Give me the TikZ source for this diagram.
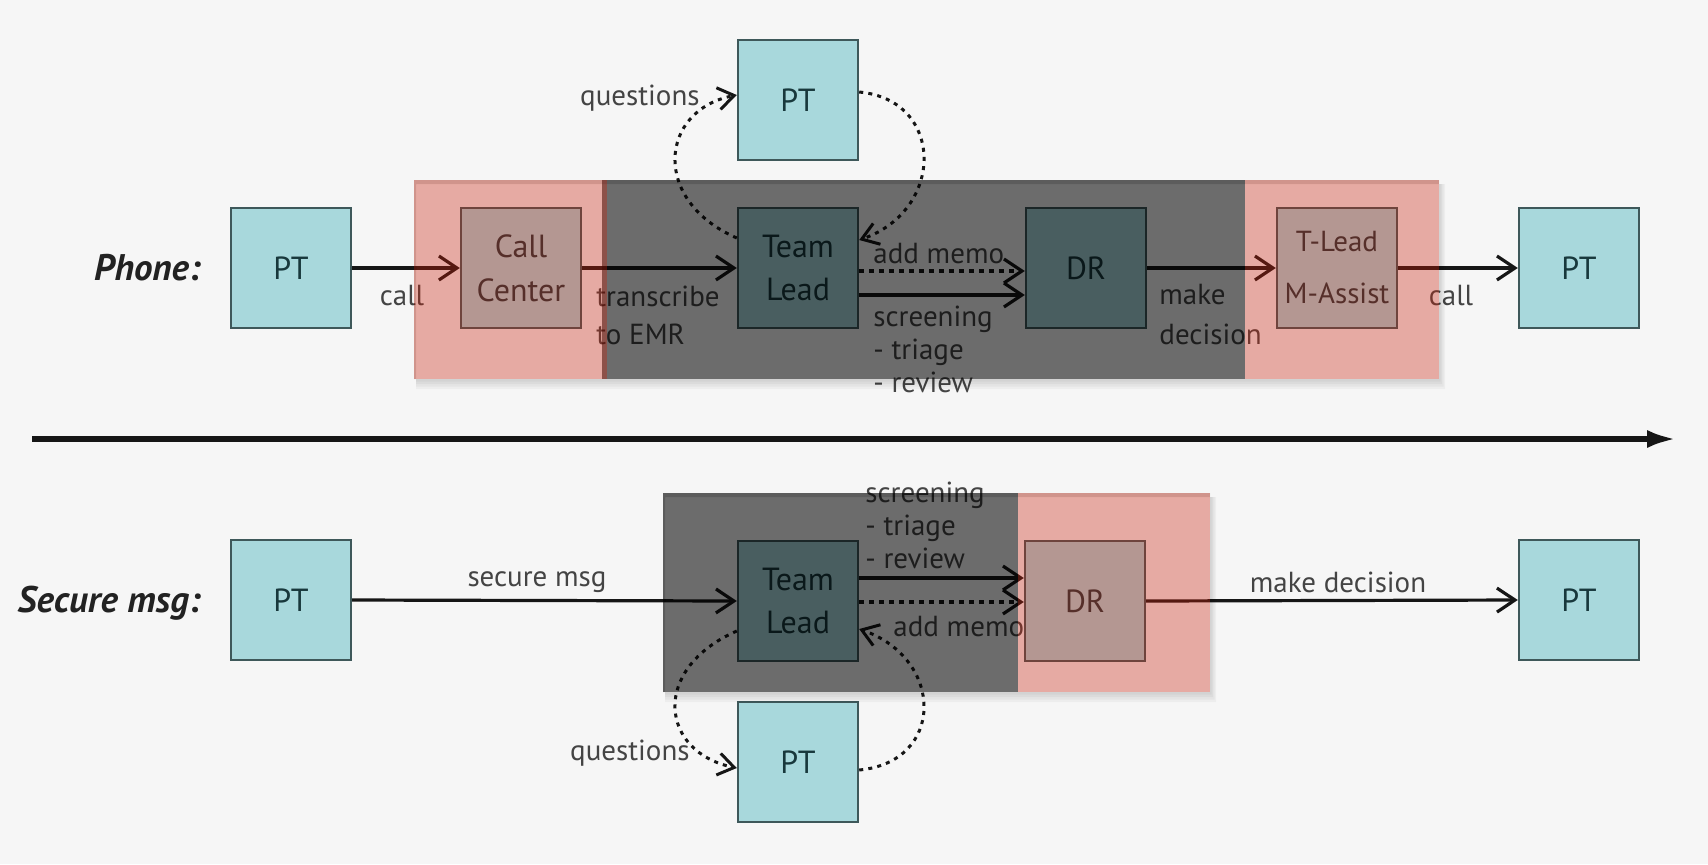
\documentclass[tikz,border=0pt]{standalone}
\usepackage{fontspec}
\setmainfont{PT Sans}
\usetikzlibrary{arrows.meta,calc}
\definecolor{bgc}{RGB}{246,246,246}
\definecolor{ptfill}{RGB}{168,216,220}
\definecolor{ptborder}{RGB}{62,88,90}
\definecolor{pttext}{RGB}{24,56,60}
\definecolor{lblc}{RGB}{68,68,68}
\definecolor{linec}{RGB}{22,22,22}
\definecolor{redov}{RGB}{203,31,9}
\definecolor{titlec}{RGB}{34,34,34}
\begin{document}
\begin{tikzpicture}[x=0.5pt,y=-0.5pt,
  box/.style={draw=ptborder, fill=ptfill, line width=1.2pt, minimum width=60pt,
    minimum height=60pt, inner sep=0pt, text=pttext, align=center,
    font=\fontsize{16}{21.5}\selectfont},
  lbl/.style={text=lblc, inner sep=0pt, font=\fontsize{14.5}{19}\selectfont},
  lbll/.style={lbl, anchor=west, align=left},
  title/.style={text=titlec, inner sep=0pt, anchor=east,
    font=\fontsize{18.5}{22}\selectfont\bfseries\itshape},
  arr/.style={draw=linec, line width=1.6pt, -{Straight Barb[length=9pt,width=12pt]}},
  dasharr/.style={arr, dash pattern=on 2.5pt off 2.5pt},
  dotarr/.style={draw=linec, line width=1.5pt, dash pattern=on 2pt off 2.6pt,
    -{Straight Barb[length=8pt,width=11pt,line width=1.5pt]}},
  timeline/.style={draw=linec, line width=3pt, -{Latex[length=15pt,width=9pt]}},
  grayov/.style={fill=black, fill opacity=0.56},
  redovl/.style={fill=redov, fill opacity=0.35},
  shadowov/.style={fill=black, fill opacity=0.035, even odd rule}
]
\fill[bgc] (0,0) rectangle (1708,864);
\useasboundingbox (0,0) rectangle (1708,864);

% ---------- titles
\node[title] (tphone) at (201,268) {Phone:};
\node[title] (tsec) at (201,603) {Secure msg:};

% ---------- phone row
\node[box] (pt1) at (291,268) {PT};
\node[box, font=\fontsize{16}{22}\selectfont] (cc) at (521,268) {Call\\Center};
\node[box] (tl1) at (798,268) {Team\\Lead};
\node[box] (dr1) at (1086,268) {DR};
\node[box, font=\fontsize{14.5}{26}\selectfont] (tm) at (1337,268) {T-Lead\\M-Assist};
\node[box] (pt2) at (1579,268) {PT};
\node[box] (pt3) at (798,100) {PT};

\draw[arr] (pt1.east) -- (cc.west);
\draw[arr] (cc.east) -- (tl1.west);
\draw[dasharr] ($(tl1.east)+(0,3)$) -- ($(dr1.west)+(0,3)$);
\draw[arr] ($(tl1.east)+(0,27)$) -- ($(dr1.west)+(0,27)$);
\draw[arr] (dr1.east) -- (tm.west);
\draw[arr] (tm.east) -- (pt2.west);
\draw[dotarr] ($(tl1.west)+(0,-30)$) .. controls (650,200) and (660,110) .. ($(pt3.west)+(0,-5)$);
\draw[dotarr] ($(pt3.east)+(0,-8)$) .. controls (945,100) and (945,210) .. ($(tl1.east)+(0,-28)$);

\node[lbl] (lcall1) at (402,296) {call};
\node[lbll] (ltrans) at (596,315) {transcribe\\to EMR};
\node[lbll] (lmemo1) at (873,254) {add memo};
\node[lbll, font=\fontsize{14.5}{16.5}\selectfont] (lscr1) at (873,349) {screening\\- triage\\- review};
\node[lbll, font=\fontsize{14.5}{20}\selectfont] (lmake1) at (1159,315) {make\\decision};
\node[lbl] (lcall2) at (1451,296) {call};
\node[lbl, anchor=east] (lq1) at (700,98) {questions};

% ---------- secure row
\node[box] (pt4) at (291,600) {PT};
\node[box] (tl2) at (798,601) {Team\\Lead};
\node[box] (dr2) at (1085,601) {DR};
\node[box] (pt5) at (1579,600) {PT};
\node[box] (pt6) at (798,762) {PT};

\draw[arr] (pt4.east) -- (tl2.west);
\draw[arr] ($(tl2.east)+(0,-23)$) -- ($(dr2.west)+(0,-23)$);
\draw[dasharr] ($(tl2.east)+(0,1)$) -- ($(dr2.west)+(0,1)$);
\draw[arr] (dr2.east) -- (pt5.west);
\draw[dotarr] ($(tl2.west)+(0,30)$) .. controls (650,669) and (660,752) .. ($(pt6.west)+(0,6)$);
\draw[dotarr] ($(pt6.east)+(0,8)$) .. controls (945,762) and (945,659) .. ($(tl2.east)+(0,28)$);

\node[lbl] (lsec) at (537,582) {secure msg};
\node[lbll, font=\fontsize{14.5}{16.5}\selectfont] (lscr2) at (865,525) {screening\\- triage\\- review};
\node[lbll] (lmemo2) at (893,627) {add memo};
\node[lbl] (lmake2) at (1338,582) {make decision};
\node[lbl, anchor=east] (lq2) at (690,753) {questions};

% ---------- timeline
\coordinate (t0) at (32,439);
\coordinate (t1) at (1677,439);
\draw[timeline] (t0) -- (t1);

% ---------- overlay shadows
\foreach \k in {1,2,3,4}{
  \fill[shadowov] (416,184) rectangle ({1439+1.5*\k},{379+2.5*\k}) (414,180) rectangle (1439,379);
  \fill[shadowov] (665,497) rectangle ({1210+1.5*\k},{692+2.5*\k}) (663,493) rectangle (1210,692);
}
% ---------- overlays
\fill[grayov] (602,180) rectangle (1245,379);
\fill[redovl] (414,180) rectangle (607,379);
\fill[redovl] (1245,180) rectangle (1439,379);
\fill[grayov] (663,493) rectangle (1018,692);
\fill[redovl] (1018,493) rectangle (1210,692);
\end{tikzpicture}
\end{document}
